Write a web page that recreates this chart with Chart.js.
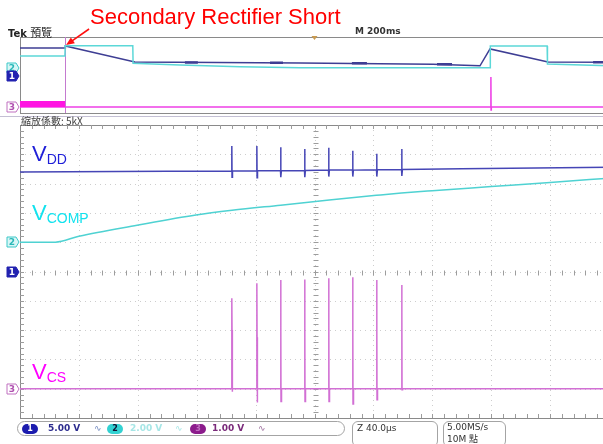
<!DOCTYPE html>
<html>
<head>
<meta charset="utf-8">
<title>Secondary Rectifier Short</title>
<script src="https://cdn.jsdelivr.net/npm/chart.js@4.4.1/dist/chart.umd.min.js"></script>
<style>
  body { margin: 0; width: 603px; height: 444px; overflow: hidden; background: #fff; position: relative; font-family: "Liberation Sans", Arial, sans-serif; }
  canvas { position: absolute; left: 0; }
  #overview { top: 0; }
  #zoom { top: 118px; }
  .txt { position: absolute; white-space: nowrap; }
  .title { left: 90px; top: 6px; font-size: 22px; line-height: 22px; color: #ff0000; }
  .tek { left: 8px; top: 24px; font-size: 10px; color: #222; font-family: "DejaVu Sans", sans-serif; }
  .tek b { font-size: 10px; }
  .tek span { font-family: "Noto Sans CJK TC", sans-serif; font-size: 11px; }
  .mtime { left: 355px; top: 26px; font: bold 9px "DejaVu Sans", sans-serif; color: #333; }
  .zfac { left: 21px; top: 113px; font: 10px "Noto Sans CJK TC", sans-serif; color: #444; }
  .lbl { font-size: 22px; line-height: 22px; }
  .lbl span { font-size: 14px; vertical-align: -3px; }
  .bar { position: absolute; border: 1px solid #a4a4a4; box-sizing: border-box; background: #fff; }
  .oval { position: absolute; top: 2px; width: 16px; height: 10px; border-radius: 5px; font: bold 8px/10px "DejaVu Sans", sans-serif; text-align: center; }
  .volt { position: absolute; top: 0; font: bold 9px/13px "DejaVu Sans", sans-serif; }
  .bw { position: absolute; top: 0; font: 9px/13px "DejaVu Sans", sans-serif; }
  .info { position: absolute; font: 9px/11px "DejaVu Sans", sans-serif; color: #333; }
</style>
</head>
<body>
<canvas id="overview" width="640" height="120"></canvas>
<canvas id="zoom" width="640" height="312"></canvas>

<div class="txt title">Secondary Rectifier Short</div>
<div class="txt tek"><b>Tek</b> <span>預覽</span></div>
<div class="txt mtime">M 200ms</div>
<div class="txt zfac">縮放係數: 5kX</div>

<div class="txt lbl" style="left:32px;top:143px;color:#1f1fd8">V<span>DD</span></div>
<div class="txt lbl" style="left:32px;top:202px;color:#12e2ee">V<span>COMP</span></div>
<div class="txt lbl" style="left:32px;top:361px;color:#ff00ff">V<span>CS</span></div>

<div class="bar" style="left:17px;top:421px;width:328px;height:15px;border-radius:8px">
  <div class="oval" style="left:4px;background:#1c1cae;color:#fff">1</div>
  <div class="volt" style="left:30px;color:#2c2c8e">5.00 V</div>
  <div class="bw" style="left:76px;color:#7088c0">∿</div>
  <div class="oval" style="left:89px;background:#34d2d2;color:#113">2</div>
  <div class="volt" style="left:112px;color:#a6e6e6">2.00 V</div>
  <div class="bw" style="left:157px;color:#a6e6e6">∿</div>
  <div class="oval" style="left:172px;background:#8c1c8c;color:#c070c0">3</div>
  <div class="volt" style="left:194px;color:#7a2a7a">1.00 V</div>
  <div class="bw" style="left:240px;color:#9a6a9a">∿</div>
</div>
<div class="bar" style="left:352px;top:421px;width:86px;height:26px;border-radius:6px">
  <div class="info" style="left:4px;top:1px">Z 40.0µs</div>
</div>
<div class="bar" style="left:443px;top:421px;width:63px;height:26px;border-radius:6px">
  <div class="info" style="left:3px;top:0">5.00MS/s</div>
  <div class="info" style="left:3px;top:11px">10M <span style="font-family:'Noto Sans CJK TC'">點</span></div>
</div>

<script>
// ---------- overview record, M 200ms (time in ms) ----------
const shortTime = 153;

const ovVddT = [0, 153, 154, 390, 951, 1402, 1562, 1596, 1793, 2000];
const ovVddV = [18.4, 18.4, 19.7, 9.2, 8.6, 7.7, 6.7, 17.8, 9.2, 9.0];

// hiccup bursts that thicken the VDD trace
const ovBurstT = [[560, 604], [849, 893], [1127, 1178], [1416, 1467], [1946, 2000]];
const ovBurstV = [8.9, 8.7, 8.3, 7.7, 9.0];

const ovCompT = [0, 152.5, 153.5, 383, 384, 543, 747, 951, 1562, 1596, 1597, 1790, 1791, 2000];
const ovCompV = [3.16, 3.16, 5.87, 5.87, 1.24, 0.79, 0.34, 0.08, 0.08, 0.08, 5.79, 5.79, 1.05, 0.6];

const ovCsT = [0, 1598, 1599, 1599.6, 1600.4, 2000];
const ovCsV = [0, 0, 3.95, -0.4, 0, 0];
const ovCsBandT = [0, 153];
const ovCsBandV = [0.4, 0.4];

// ---------- zoom window, Z 40.0us (time in us) ----------
const spikeT  = [144.0, 161.0, 177.2, 193.5, 209.8, 226.1, 242.4, 259.4];

const vddLineT = [0, 100, 300, 400];
const vddLineV = [17.0, 17.1, 17.55, 17.8];
const vddBase = [17.15, 17.2, 17.2, 17.25, 17.3, 17.3, 17.35, 17.4];
const vddHigh = [21.4, 21.4, 21.2, 20.9, 21.1, 20.6, 20.1, 20.9];
const vddLow  = [16.1, 16.0, 16.1, 16.1, 16.2, 16.2, 16.2, 16.3];

const compT = [0, 24, 40, 79.5, 119.5, 144, 177, 210, 242, 259, 280, 320, 360, 400];
const compV = [0, 0, 0.41, 1.16, 1.86, 2.18, 2.53, 2.88, 3.20, 3.36, 3.52, 3.80, 4.08, 4.37];

const csLineT = [0, 400];
const csLineV = [0, 0];
const csHigh = [3.09, 3.60, 3.71, 3.73, 3.77, 3.80, 3.71, 3.54];
const csRamp = [2.0, 1.76, 1.95, 2.1, 2.17, 1.95, 2.1, 2.6];
const csLow  = [-0.1, -0.47, -0.44, -0.44, -0.44, -0.52, -0.38, -0.04];

// channel settings: volts/div, ground position in divisions from centre
const voltsPerDiv = [5, 2, 1];
const ovGround = [-0.13, 0.92, -4.21];
const zmGround = [0, 1, -4];

const pts = (ts, vs) => ts.map((t, i) => ({x: t, y: vs[i]}));
const byX = (a, b) => a.x - b.x;

function chanAxis(i, ground) {
  return {axis: 'y', display: false, min: (-5 - ground[i]) * voltsPerDiv[i], max: (5 - ground[i]) * voltsPerDiv[i]};
}

const bursts = [];
ovBurstT.forEach((b, i) => {
  bursts.push({x: b[0], y: ovBurstV[i]}, {x: b[1], y: ovBurstV[i]}, {x: b[1] + 1, y: null});
});

const vddPts = pts(vddLineT, vddLineV);
spikeT.forEach((t, i) => {
  vddPts.push({x: t - 0.3, y: vddBase[i]}, {x: t - 0.15, y: vddHigh[i]}, {x: t, y: vddLow[i]}, {x: t + 0.3, y: vddBase[i]});
});
vddPts.sort(byX);

const csPts = pts(csLineT, csLineV);
spikeT.forEach((t, i) => {
  csPts.push({x: t - 0.3, y: 0}, {x: t - 0.15, y: csHigh[i]}, {x: t, y: csRamp[i]}, {x: t + 0.05, y: csLow[i]}, {x: t + 0.4, y: 0});
});
csPts.sort(byX);

function tag(ctx, xr, y, n, fill, stroke, color) {
  ctx.beginPath();
  ctx.moveTo(xr - 12, y - 5);
  ctx.lineTo(xr - 3, y - 5);
  ctx.lineTo(xr, y);
  ctx.lineTo(xr - 3, y + 5);
  ctx.lineTo(xr - 12, y + 5);
  ctx.closePath();
  ctx.fillStyle = fill;
  ctx.fill();
  ctx.strokeStyle = stroke;
  ctx.lineWidth = 1;
  ctx.stroke();
  ctx.fillStyle = color;
  ctx.font = 'bold 9px "DejaVu Sans"';
  ctx.textAlign = 'center';
  ctx.textBaseline = 'middle';
  ctx.fillText(n, xr - 7, y + 0.5);
}

const chanTags = {
  id: 'chanTags',
  afterDraw(chart) {
    const {ctx, chartArea: a, scales} = chart;
    ctx.save();
    const xr = a.left - 1;
    tag(ctx, xr, Math.round(scales.c2.getPixelForValue(0)), '2', '#d8f6f6', '#3cc8c8', '#2ab8b8');
    tag(ctx, xr, Math.round(scales.c1.getPixelForValue(0)), '1', '#2222b0', '#2222b0', '#fff');
    tag(ctx, xr, Math.round(scales.c3.getPixelForValue(0)), '3', '#fff', '#c070c0', '#b050b0');
    ctx.restore();
  }
};

const overviewFrame = {
  id: 'overviewFrame',
  beforeDatasetsDraw(chart) {
    const {ctx, chartArea: a, scales: {x}} = chart;
    ctx.save();
    ctx.lineWidth = 1;
    ctx.strokeStyle = '#8a8a8a';
    ctx.strokeRect(a.left + 0.5, a.top + 0.5, a.width, a.height);
    ctx.strokeStyle = '#c4c0d4';
    ctx.beginPath();
    ctx.moveTo(0, a.bottom + 3.5);
    ctx.lineTo(chart.width, a.bottom + 3.5);
    ctx.stroke();
    // zoom cursor at the short
    const cx = Math.round(x.getPixelForValue(shortTime)) + 0.5;
    ctx.strokeStyle = '#c47ad0';
    ctx.beginPath();
    ctx.moveTo(cx, a.top);
    ctx.lineTo(cx, a.bottom);
    ctx.stroke();
    // trigger marker
    const tx = x.getPixelForValue(1000);
    ctx.fillStyle = '#c89a50';
    ctx.beginPath();
    ctx.moveTo(tx - 3, a.top - 1);
    ctx.lineTo(tx + 3, a.top - 1);
    ctx.lineTo(tx, a.top + 3);
    ctx.closePath();
    ctx.fill();
    ctx.restore();
  },
  afterDraw(chart) {
    const {ctx, chartArea: a, scales: {x}} = chart;
    const tipX = x.getPixelForValue(shortTime) + 1, tipY = a.top + 8;
    const tailX = tipX + 23, tailY = tipY - 16;
    const ang = Math.atan2(tipY - tailY, tipX - tailX);
    ctx.save();
    ctx.strokeStyle = '#ff1010';
    ctx.fillStyle = '#ff1010';
    ctx.lineWidth = 1.6;
    ctx.beginPath();
    ctx.moveTo(tailX, tailY);
    ctx.lineTo(tipX - 6 * Math.cos(ang), tipY - 6 * Math.sin(ang));
    ctx.stroke();
    ctx.beginPath();
    ctx.moveTo(tipX, tipY);
    ctx.lineTo(tipX - 9 * Math.cos(ang - 0.4), tipY - 9 * Math.sin(ang - 0.4));
    ctx.lineTo(tipX - 9 * Math.cos(ang + 0.4), tipY - 9 * Math.sin(ang + 0.4));
    ctx.closePath();
    ctx.fill();
    ctx.restore();
  }
};

const graticule = {
  id: 'graticule',
  beforeDatasetsDraw(chart) {
    const {ctx, chartArea: a, scales: {x, div}} = chart;
    const step = (x.max - x.min) / 10;
    ctx.save();
    ctx.lineWidth = 1;
    ctx.strokeStyle = '#cdcdcd';
    ctx.setLineDash([1, 4]);
    ctx.beginPath();
    for (let d = 1; d < 10; d++) {
      const px = Math.round(x.getPixelForValue(x.min + d * step)) + 0.5;
      ctx.moveTo(px, a.top); ctx.lineTo(px, a.bottom);
    }
    for (let d = -4; d <= 4; d++) {
      const py = Math.round(div.getPixelForValue(d)) + 0.5;
      ctx.moveTo(a.left, py); ctx.lineTo(a.right, py);
    }
    ctx.stroke();
    ctx.setLineDash([]);
    ctx.strokeStyle = '#8a8a8a';
    ctx.strokeRect(a.left + 0.5, a.top + 0.5, a.width, a.height);
    // minor ticks on the centre lines and the frame
    const cx = Math.round(x.getPixelForValue((x.min + x.max) / 2)) + 0.5;
    const cy = Math.round(div.getPixelForValue(0)) + 0.5;
    ctx.strokeStyle = '#9c9c9c';
    ctx.beginPath();
    for (let m = 1; m < 50; m++) {
      const px = Math.round(x.getPixelForValue(x.min + m * step / 5)) + 0.5;
      ctx.moveTo(px, cy - 2); ctx.lineTo(px, cy + 3);
      ctx.moveTo(px, a.top); ctx.lineTo(px, a.top + 4);
      ctx.moveTo(px, a.bottom - 4); ctx.lineTo(px, a.bottom);
    }
    for (let m = -24; m < 25; m++) {
      const py = Math.round(div.getPixelForValue(m / 5)) + 0.5;
      ctx.moveTo(cx - 2, py); ctx.lineTo(cx + 3, py);
      ctx.moveTo(a.left, py); ctx.lineTo(a.left + 4, py);
    }
    ctx.stroke();
    ctx.restore();
  }
};

Chart.defaults.elements.point.radius = 0;
Chart.defaults.elements.line.tension = 0;
Chart.defaults.elements.line.borderWidth = 1.5;

const common = {
  responsive: false,
  animation: false,
  events: [],
  plugins: {legend: {display: false}, tooltip: {enabled: false}}
};

new Chart(document.getElementById('overview'), {
  type: 'line',
  data: {
    datasets: [
      {data: pts(ovCsBandT, ovCsBandV), yAxisID: 'c3', borderColor: '#ff14e2', borderWidth: 6},
      {data: pts(ovCsT, ovCsV), yAxisID: 'c3', borderColor: '#ee40e6'},
      {data: pts(ovCompT, ovCompV), yAxisID: 'c2', borderColor: '#5cd8d8'},
      {data: pts(ovVddT, ovVddV), yAxisID: 'c1', borderColor: '#3e3e94'},
      {data: bursts, yAxisID: 'c1', borderColor: '#3e3e94', borderWidth: 2.5}
    ]
  },
  options: {
    ...common,
    layout: {padding: {left: 20, right: 31, top: 37, bottom: 7}},
    scales: {
      x: {type: 'linear', display: false, min: 0, max: 2000},
      c1: chanAxis(0, ovGround),
      c2: chanAxis(1, ovGround),
      c3: chanAxis(2, ovGround)
    }
  },
  plugins: [overviewFrame, chanTags]
});

new Chart(document.getElementById('zoom'), {
  type: 'line',
  data: {
    datasets: [
      {data: pts(compT, compV), yAxisID: 'c2', borderColor: '#4fd2d2', cubicInterpolationMode: 'monotone'},
      {data: csPts, yAxisID: 'c3', borderColor: '#d270d4'},
      {data: vddPts, yAxisID: 'c1', borderColor: '#4646b6'}
    ]
  },
  options: {
    ...common,
    layout: {padding: {left: 20, right: 31, top: 7, bottom: 12}},
    scales: {
      x: {type: 'linear', display: false, min: 0, max: 400},
      div: {axis: 'y', display: false, min: -5, max: 5},
      c1: chanAxis(0, zmGround),
      c2: chanAxis(1, zmGround),
      c3: chanAxis(2, zmGround)
    }
  },
  plugins: [graticule, chanTags]
});
</script>
</body>
</html>
